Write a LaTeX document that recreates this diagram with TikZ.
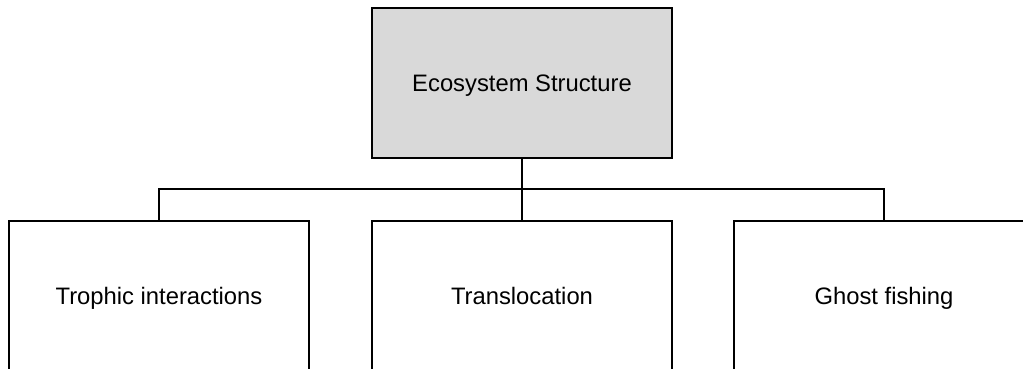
\documentclass[tikz,border=0pt]{standalone}
\usepackage{fontspec}
\setmainfont{Liberation Sans}
\definecolor{boxgrey}{HTML}{D9D9D9}
\begin{document}
\begin{tikzpicture}[x=1pt,y=-1pt,
  box/.style={draw=black, line width=1.6pt, minimum width=300pt, minimum height=150pt,
    inner sep=0pt, outer sep=0pt, font=\fontsize{23.8}{28}\selectfont, text=black,
    text height=17pt, text depth=0pt},
  link/.style={draw=black, line width=1.6pt}]
\useasboundingbox (0,0) rectangle (1023,369);
\clip (0,0) rectangle (1023,369);
\node[box, fill=boxgrey] (top) at (522,83) {Ecosystem Structure};
\node[box] (left) at (159,296) {Trophic interactions};
\node[box] (mid) at (522,296) {Translocation};
\node[box] (right) at (884,296) {Ghost fishing};
\coordinate (bus) at (522,189);
\draw[link] (top.south) -- (mid.north);
\draw[link] (left.north) |- (bus) -| (right.north);
\end{tikzpicture}
\end{document}
